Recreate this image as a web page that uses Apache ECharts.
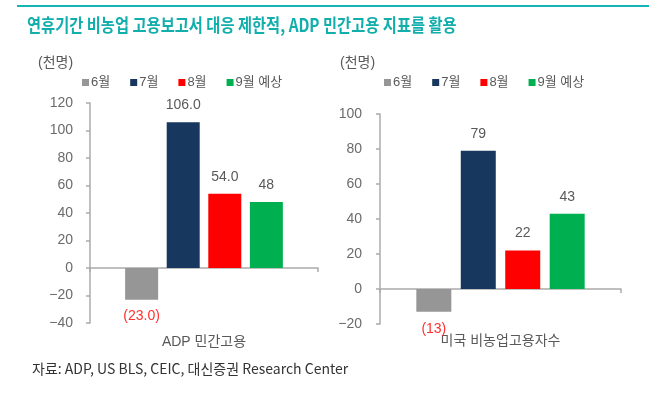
<!DOCTYPE html>
<html>
<head>
<meta charset="utf-8">
<script src="https://cdn.jsdelivr.net/npm/echarts@6/dist/echarts.min.js"></script>
<style>
html,body{margin:0;padding:0;background:#fff;}
#chart{width:659px;height:394px;}
</style>
</head>
<body>
<div id="chart"></div>
<script>
// ---- data ----
const seriesNames = ['6월', '7월', '8월', '9월 예상'];
const seriesColors = ['#969696', '#17375e', '#ff0000', '#00b050'];

const leftCategory = ['ADP 민간고용'];
const leftValues = [-23, 106, 54, 48];
const leftLabels = ['(23.0)', '106.0', '54.0', '48'];
const leftTicks = [-40, -20, 0, 20, 40, 60, 80, 100, 120];

const rightCategory = ['미국 비농업고용자수'];
const rightValues = [-13, 79, 22, 43];
const rightLabels = ['(13)', '79', '22', '43'];
const rightTicks = [-20, 0, 20, 40, 60, 80, 100];

const titleText = '연휴기간 비농업 고용보고서 대응 제한적, ADP 민간고용 지표를 활용';
const unitText = '(천명)';
const sourceText = '자료: ADP, US BLS, CEIC, 대신증권 Research Center';

// ---- chart ----
const FONT = '"Liberation Sans", "Noto Sans CJK KR", sans-serif';
const TXT = '#595959';
const AX = '#ababab';

function fmtTick(v) { return v < 0 ? '\u2212' + Math.abs(v) : String(v); }

function makeSeries(values, labels, gridIdx, barWidth, barGap) {
  return values.map((v, i) => ({
    name: seriesNames[i],
    type: 'bar',
    xAxisIndex: gridIdx,
    yAxisIndex: gridIdx,
    barWidth: barWidth,
    barGap: barGap,
    itemStyle: { color: seriesColors[i] },
    data: [v],
    label: {
      show: true,
      position: v < 0 ? 'bottom' : 'top',
      distance: 10,
      formatter: () => labels[i],
      color: v < 0 ? '#ff3030' : TXT,
      fontSize: 14,
      fontFamily: FONT
    }
  }));
}

function yAxis(gridIdx, ticks, margin) {
  return {
    type: 'value',
    gridIndex: gridIdx,
    min: ticks[0],
    max: ticks[ticks.length - 1],
    interval: ticks[1] - ticks[0],
    splitLine: { show: false },
    axisLine: { show: true, lineStyle: { color: AX, width: 1.5 } },
    axisTick: { show: true, length: 4, lineStyle: { color: AX, width: 1.5 } },
    axisLabel: { formatter: fmtTick, color: '#6b6b6b', fontSize: 14, fontFamily: FONT, margin: margin }
  };
}

function xAxis(gridIdx, cats, margin) {
  return {
    type: 'category',
    gridIndex: gridIdx,
    data: cats,
    axisLine: { show: true, onZero: true, lineStyle: { color: AX, width: 1.5 } },
    axisTick: { show: true, length: 4, lineStyle: { color: AX, width: 1.5 } },
    axisLabel: { color: TXT, fontSize: 14, fontFamily: FONT, margin: margin }
  };
}

function legend(left) {
  return {
    left: left,
    top: 76,
    icon: 'rect',
    itemWidth: 7,
    itemHeight: 7,
    itemGap: 20,
    padding: 0,
    data: seriesNames,
    selectedMode: false,
    textStyle: { color: TXT, fontSize: 13, fontFamily: FONT, padding: [0, 0, 0, -3] }
  };
}

const chart = echarts.init(document.getElementById('chart'), null, { renderer: 'canvas' });
chart.setOption({
  animation: false,
  backgroundColor: '#fff',
  grid: [
    { left: 90, top: 103, width: 228, height: 220, outerBoundsMode: 'none' },
    { left: 380, top: 114, width: 241, height: 210, outerBoundsMode: 'none' }
  ],
  legend: [legend(82), legend(384)],
  xAxis: [xAxis(0, leftCategory, 12), xAxis(1, rightCategory, 10)],
  yAxis: [yAxis(0, leftTicks, 17), yAxis(1, rightTicks, 18)],
  series: [
    ...makeSeries(leftValues, leftLabels, 0, 33, '26%'),
    ...makeSeries(rightValues, rightLabels, 1, 35, '27%')
  ],
  graphic: [
    { type: 'line', shape: { x1: 17, y1: 6, x2: 649, y2: 6 }, style: { stroke: '#14b5b2', lineWidth: 2 } },
    { type: 'text', x: 27, y: 25, scaleX: 0.85, style: { text: titleText, fill: '#12aeac', verticalAlign: 'middle', font: 'bold 18px "Noto Sans CJK KR", sans-serif' } },
    { type: 'text', left: 38, top: 56, style: { text: unitText, fill: TXT, font: '14px ' + FONT } },
    { type: 'text', left: 340, top: 56, style: { text: unitText, fill: TXT, font: '14px ' + FONT } },
    { type: 'text', left: 32, top: 362, style: { text: sourceText, fill: '#333', font: '14px "Noto Sans CJK KR", sans-serif' } }
  ]
});
</script>
</body>
</html>
